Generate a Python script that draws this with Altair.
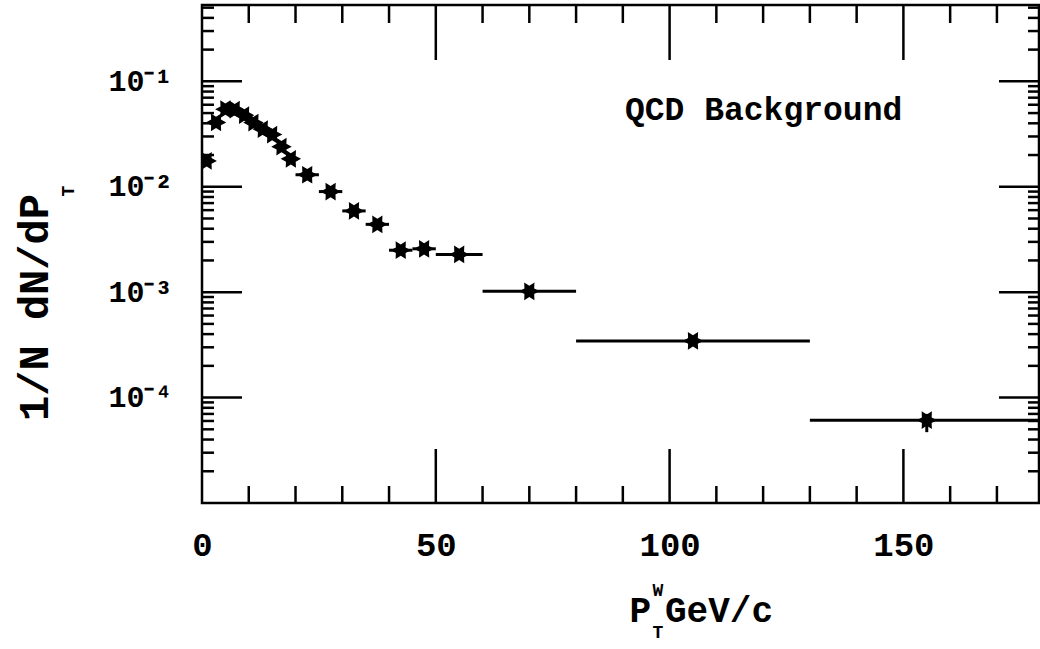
import math
import altair as alt
import pandas as pd

# ---- data ----
pt_center = [1, 3, 5, 7, 9, 11, 13, 15, 17, 19, 22.5, 27.5, 32.5, 37.5, 42.5, 47.5, 55, 70, 105, 155]
pt_low = [0, 2, 4, 6, 8, 10, 12, 14, 16, 18, 20, 25, 30, 35, 40, 45, 50, 60, 80, 130]
pt_high = [2, 4, 6, 8, 10, 12, 14, 16, 18, 20, 25, 30, 35, 40, 45, 50, 60, 80, 130, 180]
dn_dpt = [0.0176, 0.0408, 0.0544, 0.0540, 0.0478, 0.0406, 0.0352, 0.0313, 0.0240, 0.0184,
          0.0130, 0.0090, 0.0059, 0.0044, 0.00250, 0.00258, 0.00228, 0.00102, 0.000345, 0.000061]
verr_pt = [155]
verr_low = [0.000047]
verr_high = [0.000070]

x_major = [50, 100, 150]
x_minor = [10, 20, 30, 40, 60, 70, 80, 90, 110, 120, 130, 140, 160, 170]
y_major = [1e-1, 1e-2, 1e-3, 1e-4]
y_minor = [k * 10.0 ** n for n in range(-5, 0) for k in range(2, 10) if k * 10.0 ** n <= 0.53]
y_tick_labels = ["10⁻¹", "10⁻²", "10⁻³", "10⁻⁴"]

W, H = 837, 498
FONT = "Liberation Mono"

xscale = alt.Scale(domain=[0, 179], nice=False, zero=False)
yscale = alt.Scale(type="log", domain=[1e-5, 0.53], nice=False)

xaxis = alt.Axis(values=[0, 50, 100, 150], ticks=False, domain=False, grid=False,
                 labelFont=FONT, labelFontSize=34, labelFontWeight="bold", labelColor="black",
                 labelPadding=25, labelBaseline="top", labelFlush=False, labelOverlap=False,
                 title="")
label_expr = "[" + ",".join("'" + s + "'" for s in [""] + y_tick_labels) + "][round(-log(datum.value)/LN10)]"
yaxis = alt.Axis(values=y_major, ticks=False, domain=False, grid=False,
                 labelFont=FONT, labelFontSize=30, labelFontWeight="bold", labelColor="black",
                 labelPadding=30, labelBaseline="middle", labelExpr=label_expr,
                 labelFlush=False, labelOverlap=False,
                 title="1/N dN/dP", titleFont=FONT, titleFontSize=42, titleFontWeight="bold",
                 titleColor="black", titleAngle=270, titleX=-155, titleY=302,
                 titleAlign="center", titleBaseline="alphabetic")

df = pd.DataFrame({"pt": pt_center, "lo": pt_low, "hi": pt_high, "v": dn_dpt})
dfe = pd.DataFrame({"pt": verr_pt, "lo": verr_low, "hi": verr_high})

# star marker path
pts = []
for i in range(12):
    a = math.pi / 6 * i
    r = 1.0 if i % 2 == 0 else 0.55
    pts.append(f"{r * math.cos(a):.3f},{-r * math.sin(a):.3f}")
star = "M" + " L".join(pts) + " Z"

hbars = alt.Chart(df).mark_rule(color="black", strokeWidth=3, clip=True).encode(
    x=alt.X("lo:Q", scale=xscale, axis=xaxis), x2="hi:Q",
    y=alt.Y("v:Q", scale=yscale, axis=yaxis))
vbars = alt.Chart(dfe).mark_rule(color="black", strokeWidth=3, clip=True).encode(
    x=alt.X("pt:Q", scale=xscale, axis=xaxis),
    y=alt.Y("lo:Q", scale=yscale, axis=yaxis), y2="hi:Q")
points = alt.Chart(df).mark_point(shape=star, filled=True, size=420, color="black",
                                  opacity=1, clip=True).encode(
    x=alt.X("pt:Q", scale=xscale, axis=xaxis),
    y=alt.Y("v:Q", scale=yscale, axis=yaxis))

# inward tick marks on all four sides
ym = pd.DataFrame({"t": y_major})
yn = pd.DataFrame({"t": y_minor})
xm = pd.DataFrame({"t": x_major})
xn = pd.DataFrame({"t": x_minor})
tick_style = dict(color="black", strokeWidth=2.5)

def ytick(d, x0, x1):
    return alt.Chart(d).mark_rule(**tick_style).encode(
        x=alt.value(x0), x2=alt.value(x1), y=alt.Y("t:Q", scale=yscale, axis=yaxis))

def xtick(d, y0, y1):
    return alt.Chart(d).mark_rule(**tick_style).encode(
        y=alt.value(y0), y2=alt.value(y1), x=alt.X("t:Q", scale=xscale, axis=xaxis))

ticks = [
    ytick(ym, 0, 40), ytick(yn, 0, 12), ytick(ym, W, W - 40), ytick(yn, W, W - 11),
    xtick(xm, H, H - 54), xtick(xn, H, H - 17), xtick(xm, 0, 55), xtick(xn, 0, 18),
]

def text(s, x, y, size, align="center", baseline="middle", angle=0):
    kw = dict(font=FONT, fontSize=size, fontWeight="bold", color="black",
              align=align, baseline=baseline)
    if angle:
        kw["angle"] = angle
    return alt.Chart(pd.DataFrame({"t": [s]})).mark_text(**kw).encode(
        text="t:N", x=alt.value(x), y=alt.value(y))

annotations = [
    text("QCD Background", 423, 105, 33, align="left"),
    text("P", 449, 617, 36, align="right", baseline="alphabetic"),
    text("W", 456, 586, 18),
    text("T", 456, 628, 18),
    text("GeV/c", 463, 617, 36, align="left", baseline="alphabetic"),
    text("T", -128, 186, 18, baseline="alphabetic", angle=270),
]

chart = alt.layer(hbars, vbars, points, *ticks, *annotations).properties(
    width=W, height=H,
    autosize=alt.AutoSizeParams(type="none"),
    padding={"left": 202, "top": 5, "right": 1, "bottom": 146},
    background="white",
).configure_view(stroke="black", strokeWidth=2.5)

chart.save("out.html", embed_options={"renderer": "svg", "actions": False})
